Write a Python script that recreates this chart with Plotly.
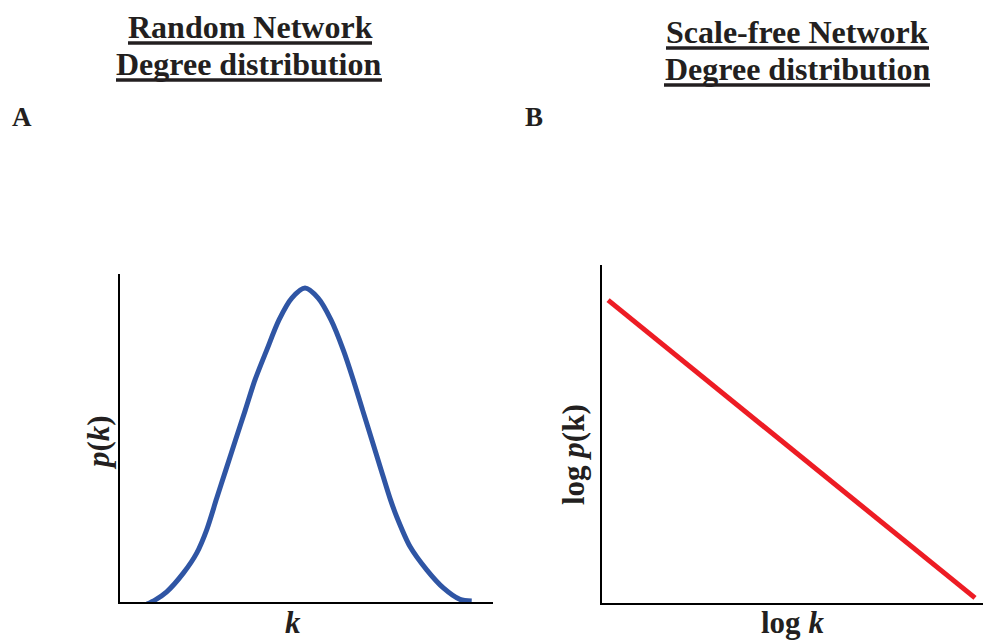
import plotly.graph_objects as go

W, H = 986, 642

# Panel A: random network degree distribution (bell-shaped)
k_random = [7.24, 9.38, 12.52, 16.97, 20.56, 23.24, 25.92, 28.36, 30.97, 33.59, 36.19, 39.33, 42.63, 46.11,
            49.60, 53.08, 56.57, 59.87, 62.55, 65.04, 67.53, 70.03, 72.39, 74.18, 77.75,
            82.23, 86.68, 91.15, 94.29]
p_random = [-0.006, 0.006, 0.031, 0.088, 0.149, 0.220, 0.316, 0.402, 0.494, 0.585, 0.677, 0.768, 0.860, 0.927,
            0.957, 0.927, 0.860, 0.768, 0.677, 0.585, 0.494, 0.402, 0.316, 0.260, 0.169,
            0.098, 0.043, 0.008, 0.003]

# Panel B: scale-free network (straight line on log-log)
logk_sf = [1.6, 97.9]
logp_sf = [0.896, 0.015]

FONT = "Liberation Serif, Times New Roman, serif"

def px_x(v):
    return v / W

def px_y(v):
    return 1 - v / H

fig = go.Figure()
fig.add_trace(go.Scatter(x=k_random, y=p_random, mode="lines",
                         line=dict(color="#2f55a4", width=5, shape="spline", smoothing=0.8),
                         xaxis="x", yaxis="y", cliponaxis=False, showlegend=False, hoverinfo="skip"))
fig.add_trace(go.Scatter(x=logk_sf, y=logp_sf, mode="lines", line=dict(color="#ed1c24", width=5),
                         xaxis="x2", yaxis="y2", cliponaxis=False, showlegend=False, hoverinfo="skip"))

ax_common = dict(showline=True, linecolor="black", linewidth=2, showgrid=False, zeroline=False,
                 showticklabels=False, ticks="", fixedrange=True)

fig.update_layout(
    width=W, height=H,
    margin=dict(l=0, r=0, t=0, b=0),
    paper_bgcolor="white", plot_bgcolor="white",
    xaxis=dict(domain=[px_x(120), px_x(493)], range=[0, 100], anchor="y", **ax_common),
    yaxis=dict(domain=[px_y(602), px_y(274)], range=[0, 1], anchor="x", **ax_common),
    xaxis2=dict(domain=[px_x(602), px_x(983)], range=[0, 100], anchor="y2", **ax_common),
    yaxis2=dict(domain=[px_y(603), px_y(265)], range=[0, 1], anchor="x2", **ax_common),
    showlegend=False,
)

def ann(text, x, y, size, angle=0):
    fig.add_annotation(text=text, x=px_x(x), y=px_y(y), xref="paper", yref="paper",
                       xanchor="center", yanchor="middle", showarrow=False, textangle=angle,
                       font=dict(family=FONT, size=size, color="#231f20"))

# titles
ann("<b>Random Network</b>", 250, 27, 32)
ann("<b>Degree distribution</b>", 249, 64, 32)
ann("<b>Scale-free Network</b>", 797, 32, 32)
ann("<b>Degree distribution</b>", 797, 69, 32)

# underlines
for x0, x1, y in [(128, 372, 43), (116, 382, 80), (666, 929, 48), (664, 930, 85)]:
    fig.add_shape(type="line", xref="paper", yref="paper", x0=px_x(x0), x1=px_x(x1), y0=px_y(y), y1=px_y(y),
                  line=dict(color="#231f20", width=3.5))

# panel letters
ann("<b>A</b>", 22, 117, 27)
ann("<b>B</b>", 534, 117, 27)

# axis labels
ann("<b><i>p</i>(<i>k</i>)</b>", 98, 443, 31, -90)
ann("<b><i>k</i></b>", 293, 622, 31)
ann("<b>log <i>p</i>(k)</b>", 573, 455, 31, -90)
ann("<b>log <i>k</i></b>", 792, 622, 31)

fig.write_html("out.html")
